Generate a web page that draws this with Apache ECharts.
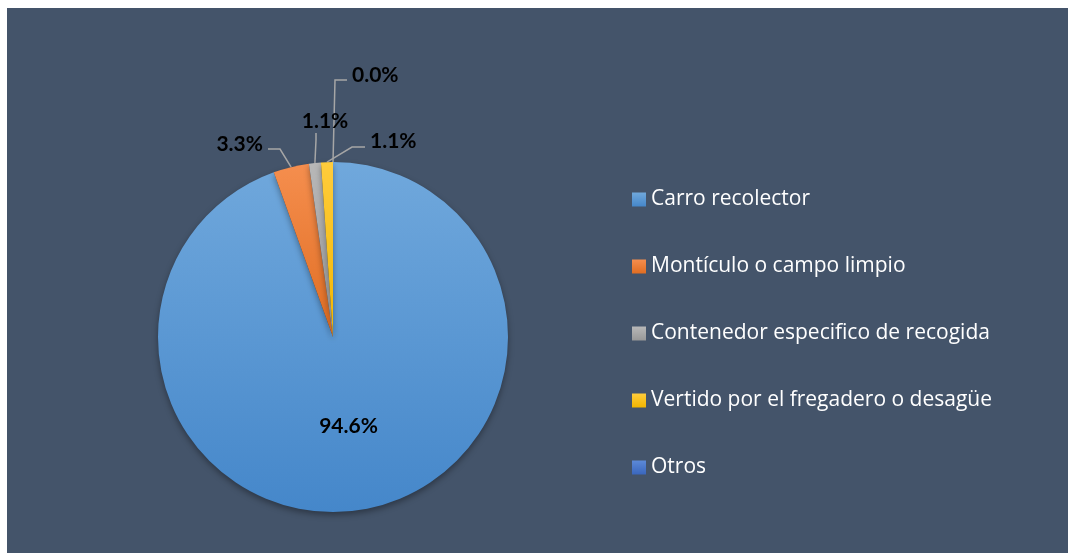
<!DOCTYPE html>
<html>
<head>
<meta charset="utf-8">
<script src="https://cdn.jsdelivr.net/npm/echarts@6/dist/echarts.min.js"></script>
<style>
  html, body { margin: 0; padding: 0; background: #ffffff; }
  #chart {
    position: absolute;
    left: 7px;
    top: 8px;
    width: 1061px;
    height: 545px;
    background: #44546A;
  }
</style>
</head>
<body>
<div id="chart"></div>
<script>
// datos
const categorias = ['Carro recolector', 'Montículo o campo limpio', 'Contenedor especifico de recogida', 'Vertido por el fregadero o desagüe', 'Otros']
const porcentajes = [94.6, 3.3, 1.1, 1.1, 0.0]

const colores = [
  ['#70A8DC', '#4587CA'],
  ['#F58E4E', '#E06D22'],
  ['#B8B8B8', '#989898'],
  ['#FFCC3C', '#F2B600'],
  ['#5C8AD8', '#3A66BD']
]

const centro = [326, 329]
const radio = 175

// posicion de etiquetas exteriores (texto, codo y final de la guia)
const etiquetas = {
  1: { x: 256, y: 136, align: 'right', codo: [273, 141], fin: [261, 141] },
  2: { x: 318, y: 113, align: 'center', codo: [309, 132], fin: [309, 125] },
  3: { x: 363, y: 133, align: 'left', codo: [345, 139], fin: [358, 139] },
  4: { x: 345, y: 67, align: 'left', codo: [328, 72], fin: [340, 72] }
}

// angulo medio de cada porcion (en sentido horario desde arriba)
const total = porcentajes.reduce((a, b) => a + b, 0)
let acum = 0
const angMedio = porcentajes.map(v => {
  const a = (acum + v / 2) / total * Math.PI * 2
  acum += v
  return a
})

const chart = echarts.init(document.getElementById('chart'))
chart.setOption({
  animation: false,
  legend: {
    orient: 'vertical',
    left: 620,
    top: 176,
    itemWidth: 14,
    itemHeight: 14,
    itemGap: 46,
    icon: 'rect',
    textStyle: {
      color: '#FFFFFF',
      fontSize: 21,
      lineHeight: 21,
      fontFamily: 'Open Sans'
    },
    data: categorias
  },
  series: [{
    type: 'pie',
    center: centro,
    radius: radio,
    startAngle: 90,
    clockwise: true,
    avoidLabelOverlap: false,
    itemStyle: {
      shadowBlur: 6,
      shadowOffsetY: 3,
      shadowColor: 'rgba(0,0,0,0.35)'
    },
    label: {
      show: true,
      color: '#000000',
      fontSize: 21,
      fontWeight: 'bold',
      fontFamily: 'Lato',
      formatter: p => p.value.toFixed(1) + '%'
    },
    labelLine: {
      show: true,
      lineStyle: { color: '#A6A6A6', width: 1.5 }
    },
    labelLayout: function (params) {
      const e = etiquetas[params.dataIndex]
      if (!e) return {}
      const a = angMedio[params.dataIndex]
      const inicio = [centro[0] + radio * Math.sin(a), centro[1] - radio * Math.cos(a)]
      return {
        x: e.x,
        y: e.y,
        align: e.align,
        verticalAlign: 'middle',
        labelLinePoints: [inicio, e.codo, e.fin]
      }
    },
    data: categorias.map((nombre, i) => ({
      name: nombre,
      value: porcentajes[i],
      itemStyle: {
        color: new echarts.graphic.LinearGradient(0, 0, 0, 1, [
          { offset: 0, color: colores[i][0] },
          { offset: 1, color: colores[i][1] }
        ])
      },
      label: i === 0 ? { position: 'inside' } : { position: 'outside' },
      labelLine: { show: i !== 0 }
    }))
  }]
})
</script>
</body>
</html>
